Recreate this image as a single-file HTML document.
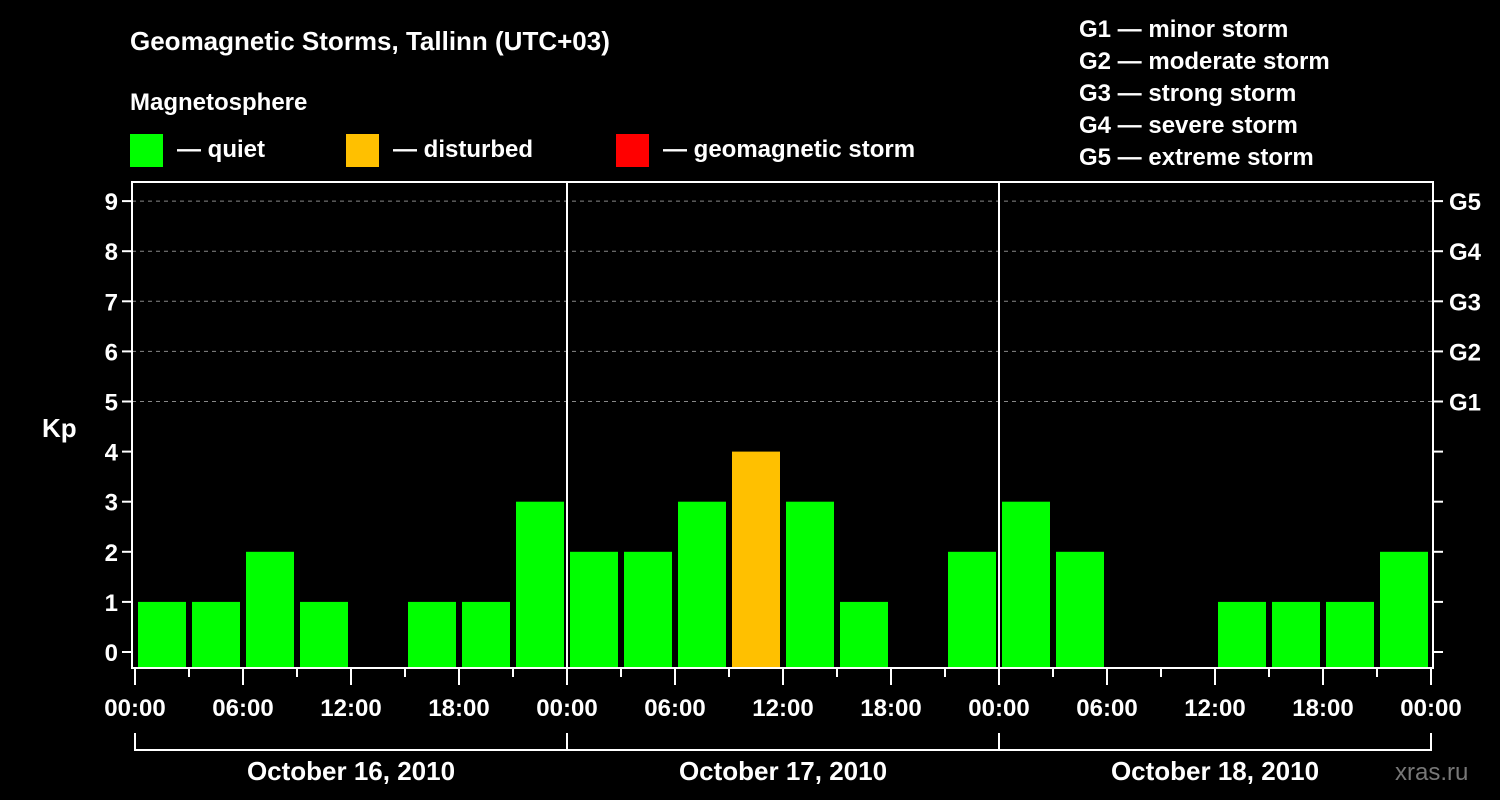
<!DOCTYPE html>
<html><head><meta charset="utf-8"><style>
body{margin:0;background:#000;}
svg{display:block;font-family:"Liberation Sans",Arial,sans-serif;font-weight:bold;fill:#fff;}
</style></head><body>
<svg id="c" width="1500" height="800">
<text x="130" y="50" font-size="26">Geomagnetic Storms, Tallinn (UTC+03)</text>
<text x="130" y="110" font-size="24">Magnetosphere</text>
<g><rect x="130" y="134" width="33" height="33" fill="#00ff00"/><text x="177" y="157" font-size="24">— quiet</text></g>
<g><rect x="346" y="134" width="33" height="33" fill="#ffc000"/><text x="393" y="157" font-size="24">— disturbed</text></g>
<g><rect x="616" y="134" width="33" height="33" fill="#ff0000"/><text x="663" y="157" font-size="24">— geomagnetic storm</text></g>
<g font-size="24">
<text x="1079" y="37">G1 — minor storm</text>
<text x="1079" y="69">G2 — moderate storm</text>
<text x="1079" y="101">G3 — strong storm</text>
<text x="1079" y="133">G4 — severe storm</text>
<text x="1079" y="165">G5 — extreme storm</text>
</g>
<text x="42" y="437" font-size="26">Kp</text>
<text x="1395" y="780" font-size="24" fill="#777" style="fill:#777;font-weight:normal">xras.ru</text>
<g id="plot"></g>
</svg>
<script>
const kpValues=[1,1,2,1,0,1,1,3, 2,2,3,4,3,1,0,2, 3,2,0,0,1,1,1,2];
const yTicks=[0,1,2,3,4,5,6,7,8,9];
const gLabels=["G1","G2","G3","G4","G5"];
const xTickLabels=["00:00","06:00","12:00","18:00","00:00","06:00","12:00","18:00","00:00","06:00","12:00","18:00","00:00"];
const dayLabels=["October 16, 2010","October 17, 2010","October 18, 2010"];

const NS="http://www.w3.org/2000/svg";
const g=document.getElementById('plot');
const X0=135, PX_H=18, Y0=652, PX_K=50.1, BOT=668, LEFT=132, RIGHT=1433, TOP=182;
const xh=h=>X0+h*PX_H;
const yk=k=>Y0-k*PX_K;
function mk(tag,attrs,parent){const e=document.createElementNS(NS,tag);for(const k in attrs)e.setAttribute(k,attrs[k]);(parent||g).appendChild(e);return e;}

// grid
yTicks.forEach(k=>{ if(k>=5){const l=mk('line',{x1:LEFT,x2:RIGHT,y1:yk(k),y2:yk(k),stroke:'#888','stroke-dasharray':'4,4','stroke-width':1});

}});
// bars
kpValues.forEach((v,i)=>{ if(v<=0)return;
 const col=v>=5?'#ff0000':(v>=4?'#ffc000':'#00ff00');
 const r=mk('rect',{x:xh(i*3)+3,y:yk(v),width:48,height:BOT-yk(v),fill:col});
 
 
});
// day separators
for(let d=1;d<3;d++){const l=mk('line',{x1:xh(d*24),x2:xh(d*24),y1:TOP,y2:BOT,stroke:'#fff','stroke-width':2});

}
// frame
const fr=mk('rect',{x:LEFT,y:TOP,width:RIGHT-LEFT,height:BOT-TOP,fill:'none',stroke:'#fff','stroke-width':2});


// y ticks
yTicks.forEach(k=>{
 mk('line',{x1:LEFT-10,x2:LEFT,y1:yk(k),y2:yk(k),stroke:'#fff','stroke-width':2});
 mk('line',{x1:RIGHT,x2:RIGHT+10,y1:yk(k),y2:yk(k),stroke:'#fff','stroke-width':2});
 const t=mk('text',{x:LEFT-14,y:yk(k)+9,'font-size':24,'text-anchor':'end'});t.textContent=k;
 
 
});
gLabels.forEach((s,i)=>{const t=mk('text',{x:1449,y:yk(i+5)+9,'font-size':24});t.textContent=s;
 
 });
// x ticks
for(let h=0;h<=72;h+=3){const major=h%6===0;
 mk('line',{x1:xh(h),x2:xh(h),y1:BOT,y2:BOT+(major?17:9),stroke:'#fff','stroke-width':2});}
xTickLabels.forEach((s,i)=>{const t=mk('text',{x:xh(i*6),y:716,'font-size':24,'text-anchor':'middle'});t.textContent=s;
 
 });
// day brackets
dayLabels.forEach((s,d)=>{
 const a=xh(d*24),b=xh(d*24+24);
 mk('path',{d:`M${a} 733V750H${b}V733`,stroke:'#fff','stroke-width':2,fill:'none'});
 const t=mk('text',{x:(a+b)/2,y:780,'font-size':26,'text-anchor':'middle'});t.textContent=s;
 
 
});
</script>
</body></html>
